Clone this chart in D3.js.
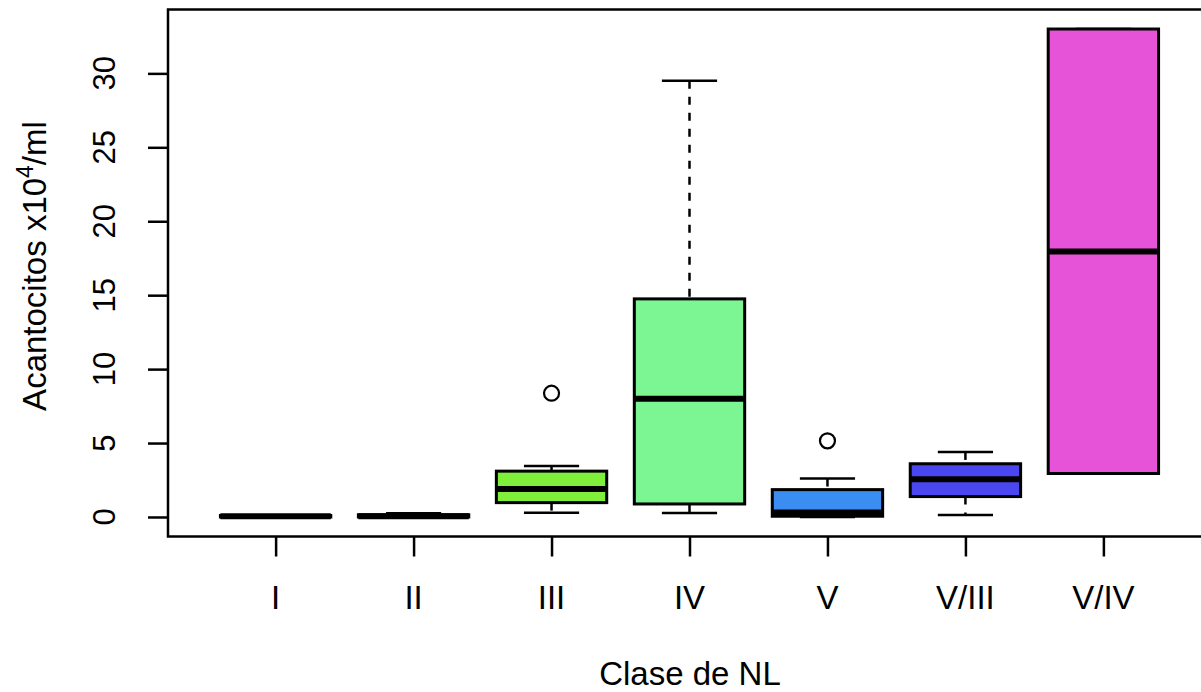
<!DOCTYPE html>
<html>
<head>
<meta charset="utf-8">
<script src="https://cdn.jsdelivr.net/npm/d3@7"></script>
<style>
  body { margin: 0; background: #fff; }
  svg { display: block; font-family: "Liberation Sans", Arial, sans-serif; }
</style>
</head>
<body>
<div id="chart"></div>
<script>
// Box statistics (acantocitos x10^4/ml)
var categories = ["I", "II", "III", "IV", "V", "V/III", "V/IV"];
var whiskerLo = [0, 0, 0.29, 0.27, 0, 0.13, 2.94];
var q1 = [0, 0, 0.97, 0.88, 0.05, 1.38, 2.94];
var medians = [0.05, 0.05, 1.9, 8.0, 0.3, 2.55, 17.95];
var q3 = [0.1, 0.15, 3.1, 14.75, 1.85, 3.6, 33.0];
var whiskerHi = [0.1, 0.25, 3.45, 29.5, 2.6, 4.4, 33.0];
var outliers = [[], [], [8.37], [], [5.15], [], []];
var boxColors = ["#F0453A", "#F0D23A", "#80EF3C", "#7CF593", "#3A8EF2", "#4B47F0", "#E653D8"];
var yTicks = [0, 5, 10, 15, 20, 25, 30];

var svgWidth = 1201;
var svgHeight = 692;

var svg = d3.select("#chart")
  .append("svg")
  .attr("width", svgWidth)
  .attr("height", svgHeight);

// R style scales: categories at 1..n, 4% padding on both axes
var xScale = d3.scaleLinear()
  .domain([0.22, 7.78])
  .range([168, 1211]);
var yScale = d3.scaleLinear()
  .domain([-1.32, 34.32])
  .range([536.5, 9.5]);

var boxHalf = 0.4;
var capHalf = 0.2;

var data = categories.map(function(c, i) {
  return {
    name: c, pos: i + 1, lo: whiskerLo[i], q1: q1[i], med: medians[i],
    q3: q3[i], hi: whiskerHi[i], out: outliers[i], color: boxColors[i]
  };
});

var groups = svg.selectAll("g.box").data(data).enter()
  .append("g")
  .attr("class", "box");

// dashed whiskers
groups.append("line")
  .attr("x1", d => xScale(d.pos)).attr("x2", d => xScale(d.pos))
  .attr("y1", d => yScale(d.hi)).attr("y2", d => yScale(d.q3))
  .attr("stroke", "#000").attr("stroke-width", 2.5)
  .attr("stroke-dasharray", "8,8");
groups.append("line")
  .attr("x1", d => xScale(d.pos)).attr("x2", d => xScale(d.pos))
  .attr("y1", d => yScale(d.q1)).attr("y2", d => yScale(d.lo))
  .attr("stroke", "#000").attr("stroke-width", 2.5)
  .attr("stroke-dasharray", "8,8");

// staples
["lo", "hi"].forEach(function(k) {
  groups.append("line")
    .attr("x1", d => xScale(d.pos - capHalf)).attr("x2", d => xScale(d.pos + capHalf))
    .attr("y1", d => yScale(d[k])).attr("y2", d => yScale(d[k]))
    .attr("stroke", "#000").attr("stroke-width", 2.5);
});

// boxes
groups.append("rect")
  .attr("x", d => xScale(d.pos - boxHalf))
  .attr("width", d => xScale(d.pos + boxHalf) - xScale(d.pos - boxHalf))
  .attr("y", d => yScale(d.q3))
  .attr("height", d => yScale(d.q1) - yScale(d.q3))
  .attr("fill", d => d.color)
  .attr("stroke", "#000")
  .attr("stroke-width", 3);

// medians
groups.append("line")
  .attr("x1", d => xScale(d.pos - boxHalf)).attr("x2", d => xScale(d.pos + boxHalf))
  .attr("y1", d => yScale(d.med)).attr("y2", d => yScale(d.med))
  .attr("stroke", "#000").attr("stroke-width", 6);

// outliers
groups.selectAll("circle")
  .data(d => d.out.map(v => ({ pos: d.pos, v: v })))
  .enter().append("circle")
  .attr("cx", d => xScale(d.pos))
  .attr("cy", d => yScale(d.v))
  .attr("r", 7.5)
  .attr("fill", "none")
  .attr("stroke", "#000")
  .attr("stroke-width", 2.2);

// frame
svg.append("rect")
  .attr("x", 168).attr("y", 9.5)
  .attr("width", 1211 - 168).attr("height", 536.5 - 9.5)
  .attr("fill", "none").attr("stroke", "#000").attr("stroke-width", 2.5);

// y axis
var leftAxis = d3.axisLeft(yScale).tickValues(yTicks).tickSize(20).tickFormat("");
svg.append("g")
  .attr("transform", "translate(168,0)")
  .call(leftAxis)
  .call(g => g.select(".domain").remove())
  .call(g => g.selectAll(".tick line").attr("stroke", "#000").attr("stroke-width", 2.5));

svg.selectAll("text.ytick").data(yTicks).enter()
  .append("text")
  .attr("class", "ytick")
  .attr("transform", d => `translate(115,${yScale(d)}) rotate(-90)`)
  .attr("text-anchor", "middle")
  .attr("font-size", 31)
  .text(d => d);

// x axis
var bottomAxis = d3.axisBottom(xScale).tickValues(d3.range(1, categories.length + 1)).tickSize(20).tickFormat("");
svg.append("g")
  .attr("transform", "translate(0,536.5)")
  .call(bottomAxis)
  .call(g => g.select(".domain").remove())
  .call(g => g.selectAll(".tick line").attr("stroke", "#000").attr("stroke-width", 2.5));

svg.selectAll("text.xtick").data(data).enter()
  .append("text")
  .attr("class", "xtick")
  .attr("x", d => xScale(d.pos))
  .attr("y", 609)
  .attr("text-anchor", "middle")
  .attr("font-size", 33)
  .text(d => d.name);

// axis titles
svg.append("text")
  .attr("x", 690)
  .attr("y", 685)
  .attr("text-anchor", "middle")
  .attr("font-size", 33)
  .text("Clase de NL");

var yTitle = svg.append("text")
  .attr("transform", "translate(46,266) rotate(-90)")
  .attr("text-anchor", "middle")
  .attr("font-size", 33);
yTitle.append("tspan").text("Acantocitos x10");
yTitle.append("tspan").attr("font-size", 23).attr("dy", -13).text("4");
yTitle.append("tspan").attr("dy", 13).text("/ml");
</script>
</body>
</html>
